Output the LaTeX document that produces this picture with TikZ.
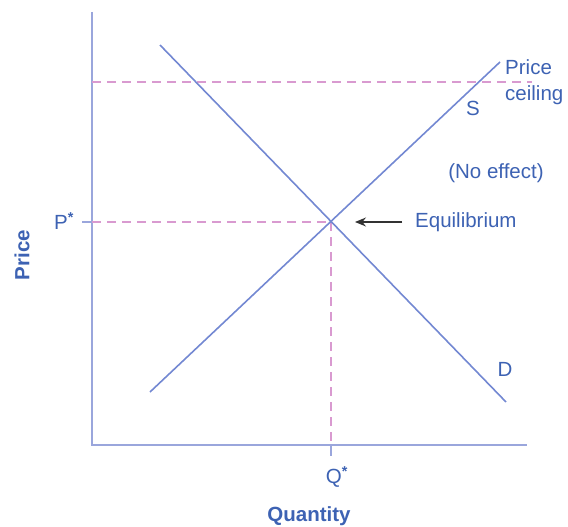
\documentclass[tikz,border=0pt]{standalone}
\usepackage{fontspec}
\setmainfont{Liberation Sans}
\usetikzlibrary{arrows.meta}
\definecolor{txtblue}{HTML}{3D62B3}
\definecolor{lineblue}{HTML}{7388D2}
\definecolor{axisblue}{HTML}{9AA6DC}
\definecolor{dashpink}{HTML}{D99AD0}
\tikzset{
  curve/.style={draw=lineblue, line width=1.6pt},
  axisline/.style={draw=axisblue, line width=2.2pt},
  guide/.style={draw=dashpink, line width=1.4pt, dash pattern=on 9pt off 6pt},
  lbl/.style={text=txtblue, font=\fontsize{20.5}{23}\selectfont, inner sep=0pt},
  axlbl/.style={text=txtblue, font=\fontsize{20.5}{23}\selectfont\bfseries, inner sep=0pt},
}
\begin{document}
\begin{tikzpicture}[x=1pt, y=-1pt]
\useasboundingbox (0,0) rectangle (568,527);
% axes
\coordinate (O) at (92,445);
\coordinate (ytop) at (92,12);
\coordinate (xend) at (527,445);
\draw[axisline] (ytop) -- (O) -- (xend);
% equilibrium
\coordinate (E) at (331,222);
\coordinate (Pt) at (82,222);
\coordinate (Py) at (92,222);
\coordinate (Qx) at (331,445);
\coordinate (Qt) at (331,456);
% guides
\coordinate (c1) at (92,82);
\coordinate (c2) at (532,82);
\draw[guide] (c1) -- (c2);
\draw[guide] (Py) -- (E);
\draw[guide] (E) -- (Qx);
\draw[axisline, line width=1.6pt] (Pt) -- (Py);
\draw[axisline, line width=1.6pt] (Qx) -- (Qt);
% curves
\coordinate (d1) at (160,45);
\coordinate (d2) at (506,402);
\coordinate (s1) at (150,392);
\coordinate (s2) at (500,62);
\draw[curve] (d1) -- (d2);
\draw[curve] (s1) -- (s2);
% labels
\node[lbl, anchor=west] (eq) at (415,222) {Equilibrium};
\draw[-{Stealth[length=11pt,width=9pt]}, line width=1.3pt, draw=black!80, fill=black!80] ([xshift=-13pt]eq.west) -- ([xshift=24pt]E);
\node[lbl] (noeff) at (496,173) {(No effect)};
\node[lbl] (S) at (473,108) {S};
\node[lbl] (D) at (505,369) {D};
\node[lbl, anchor=west, align=left] (pc) at (505,82) {Price\\[3pt]ceiling};
\node[lbl] (P) at (64,221) {P\textsuperscript{\textbf{*}}};
\node[lbl] (Q) at (337,477) {Q\textsuperscript{\textbf{*}}};
\node[axlbl] (qty) at (309,516) {Quantity};
\node[axlbl, rotate=90] (pr) at (22,255) {Price};
\end{tikzpicture}
\end{document}
